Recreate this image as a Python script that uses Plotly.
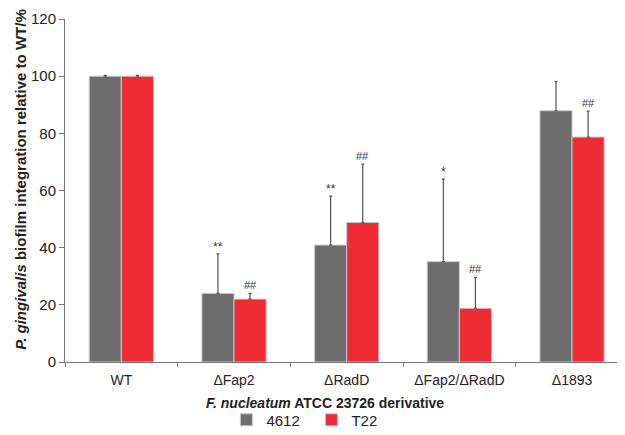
import plotly.graph_objects as go

categories = ["WT", "ΔFap2", "ΔRadD", "ΔFap2/ΔRadD", "Δ1893"]
s4612 = [100, 24.0, 40.9, 35.1, 87.9]
s4612_err = [0.3, 13.8, 17.1, 28.9, 10.2]
t22 = [100, 22.0, 48.8, 18.8, 78.7]
t22_err = [0.3, 2.0, 20.4, 10.8, 9.1]
sig4612 = ["", "**", "**", "*", ""]
sigT22 = ["", "##", "##", "##", "##"]
x_title = "<b><i>F. nucleatum</i> ATCC 23726 derivative</b>"
y_title = "<b><i>P. gingivalis</i> biofilm integration relative to WT/%</b>"

font = "Liberation Sans, Arial, sans-serif"
fig = go.Figure()
fig.add_bar(x=categories, y=s4612, name="4612", offsetgroup="a",
            marker=dict(color="#6d6d6d", line=dict(color="#c8c8d0", width=1)),
            error_y=dict(type="data", array=s4612_err, arrayminus=[0]*5, symmetric=False,
                         color="#555555", thickness=1.2, width=1.5))
fig.add_bar(x=categories, y=t22, name="T22", offsetgroup="b",
            marker=dict(color="#ee2a35", line=dict(color="#c8c8d0", width=1)),
            error_y=dict(type="data", array=t22_err, arrayminus=[0]*5, symmetric=False,
                         color="#555555", thickness=1.2, width=1.5))

for i, c in enumerate(categories):
    if sig4612[i]:
        fig.add_annotation(x=c, y=s4612[i] + s4612_err[i], text=sig4612[i], showarrow=False,
                           xshift=-16, yanchor="bottom", yshift=-2,
                           font=dict(family=font, size=12, color="#333"))
    if sigT22[i]:
        fig.add_annotation(x=c, y=t22[i] + t22_err[i], text=sigT22[i], showarrow=False,
                           xshift=16, yanchor="bottom", yshift=0,
                           font=dict(family=font, size=11, color="#333"))

# axis titles
fig.add_annotation(xref="paper", yref="paper", x=0.464, y=0, yanchor="middle", yshift=-41,
                   text=x_title, showarrow=False, font=dict(family=font, size=14, color="#222"))
fig.add_annotation(xref="paper", yref="paper", x=0, y=0.531, xanchor="center", xshift=-44,
                   textangle=-90, text=y_title, showarrow=False,
                   font=dict(family=font, size=15, color="#222"))

fig.update_layout(
    width=617, height=427,
    margin=dict(l=57, r=0, t=11, b=73),
    plot_bgcolor="white", paper_bgcolor="white",
    font=dict(family=font, size=14, color="#222"),
    barmode="group", bargap=0.43, bargroupgap=0,
    showlegend=True,
    legend=dict(orientation="h", x=0.44, xanchor="center", yref="container",
                y=0.035, yanchor="middle", font=dict(size=15),
                itemwidth=30, entrywidth=40, traceorder="normal"),
)
fig.update_xaxes(range=[-0.5, 4.47], showline=True, linecolor="#777", linewidth=1,
                 ticks="outside", tickson="boundaries", ticklen=4, tickcolor="#777",
                 tickfont=dict(size=14), automargin=False, ticklabelstandoff=5)
fig.update_yaxes(range=[0, 120], dtick=20, showgrid=False, zeroline=False,
                 showline=True, linecolor="#777", linewidth=1, automargin=False,
                 ticks="outside", ticklen=5, tickcolor="#777", tickfont=dict(size=15))
fig.write_html("out.html")
